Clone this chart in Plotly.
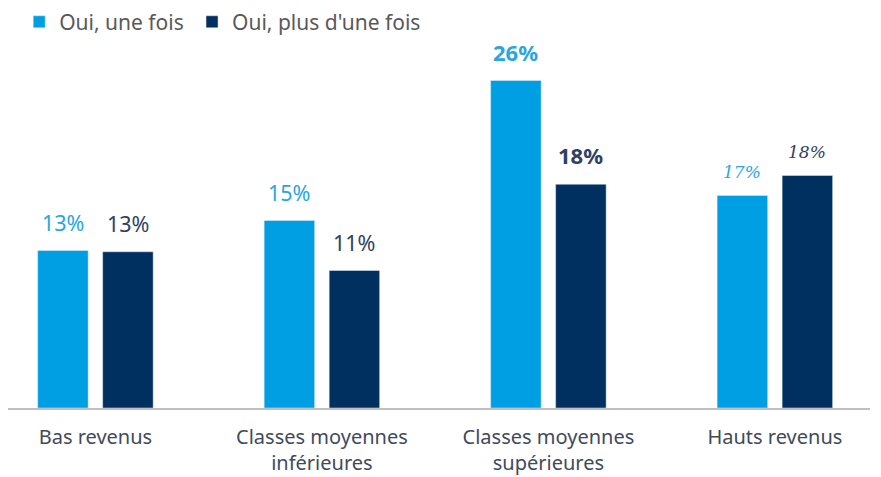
import plotly.graph_objects as go

categories = ["Bas revenus", "Classes moyennes<br>inférieures",
              "Classes moyennes<br>supérieures", "Hauts revenus"]
series_names = ["Oui, une fois", "Oui, plus d'une fois"]
once_values = [12.6, 15.0, 26.2, 17.0]
more_values = [12.5, 11.0, 17.9, 18.6]
once_labels = ["13%", "15%", "26%", "17%"]
more_labels = ["13%", "11%", "18%", "18%"]

LIGHT = "#009FE3"
DARK = "#00305F"
LIGHT_TXT = "#2AA5E0"
DARK_TXT = "#2E4164"

# per-group label style (the source deck mixes styles)
label_family = ["Noto Sans", "Noto Sans", "Noto Sans", "DejaVu Serif"]
label_size = [21.5, 21.5, 22, 17]
label_weight = ["normal", "normal", "bold", "normal"]
label_style = ["normal", "normal", "normal", "italic"]

fig = go.Figure()
fig.add_trace(go.Bar(name=series_names[0], x=categories, y=once_values,
                     marker_color=LIGHT, legend="legend"))
fig.add_trace(go.Bar(name=series_names[1], x=categories, y=more_values,
                     marker_color=DARK, legend="legend2"))

offset = 32.5
for vals, labs, col, sign in [(once_values, once_labels, LIGHT_TXT, -1),
                              (more_values, more_labels, DARK_TXT, 1)]:
    for i, (v, t) in enumerate(zip(vals, labs)):
        fig.add_annotation(
            x=categories[i], y=v, text=t, showarrow=False,
            xshift=sign * offset, yshift=12, yanchor="bottom",
            font=dict(family=label_family[i], size=label_size[i], color=col,
                      weight=label_weight[i], style=label_style[i]),
        )

legend_style = dict(orientation="h", xanchor="left", y=1.029, yanchor="middle",
                    font=dict(size=21, color="#595959"), bgcolor="rgba(0,0,0,0)")

# page body adds an 8px offset, so the figure is 8px smaller than the window
fig.update_layout(
    width=873, height=469,
    margin=dict(l=0, r=11, t=25, b=69, autoexpand=False),
    paper_bgcolor="white", plot_bgcolor="white",
    barmode="group", bargap=0.426, bargroupgap=0.223,
    font=dict(family="Noto Sans", color="#3F4A5A"),
    showlegend=True,
    legend=dict(x=0.013, **legend_style),
    legend2=dict(x=0.2135, **legend_style),
    xaxis=dict(range=[-0.386, 3.42], showline=True, linecolor="#BFBFBF",
               linewidth=2, showgrid=False, ticks="outside", ticklen=10,
               tickcolor="rgba(0,0,0,0)", tickfont=dict(size=20, color="#3F4A5A")),
    yaxis=dict(range=[0, 30], visible=False),
)

fig.write_html("out.html")
